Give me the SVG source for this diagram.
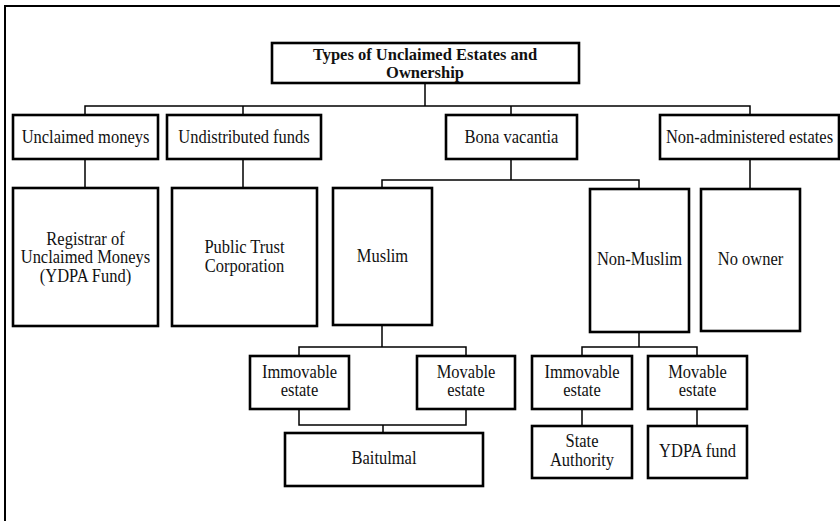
<svg xmlns="http://www.w3.org/2000/svg" width="840" height="521" viewBox="0 0 840 521">
<style>
.box{fill:#fff;stroke:#000;stroke-width:2.6}
.frame{fill:none;stroke:#000;stroke-width:2}
.conn{fill:none;stroke:#000;stroke-width:1.5}
text{font-family:"Liberation Serif","DejaVu Serif",serif;font-size:16.5px;fill:#111;text-anchor:middle}
.title{font-weight:bold;font-size:16.5px}
</style>
<rect x="0" y="0" width="840" height="521" fill="#fff"/>
<path class="frame" d="M5,530 V6 H850"/>
<g id="connectors">
<path class="conn" d="M425,83 V106 M85,115 V106 H750 V115 M243,106 V115 M511,106 V115"/>
<path class="conn" d="M85,159 V188 M243,159 V188 M750,159 V189"/>
<path class="conn" d="M511,159 V180 M382,188 V180 H639 V189"/>
<path class="conn" d="M382,325 V347 M299,356 V347 H466 V356"/>
<path class="conn" d="M299,409 V425 H466 V409 M383,425 V433"/>
<path class="conn" d="M639,332 V347 M582,356 V347 H697 V356"/>
<path class="conn" d="M582,409 V426 M697,409 V426"/>
</g>
<g id="title"><rect class="box" x="272" y="43" width="307" height="40"/><text class="title" transform="translate(425,59.5) scale(1,1.05)">Types of Unclaimed Estates and</text><text class="title" transform="translate(425,77.5) scale(1,1.05)">Ownership</text></g>
<g id="unclaimed-moneys"><rect class="box" x="13" y="115" width="145" height="44"/><text transform="translate(85.5,143) scale(1,1.1)">Unclaimed moneys</text></g>
<g id="undistributed-funds"><rect class="box" x="167" y="115" width="154" height="44"/><text transform="translate(244,143) scale(1,1.1)">Undistributed funds</text></g>
<g id="bona-vacantia"><rect class="box" x="446" y="115" width="131" height="44"/><text transform="translate(511.5,143) scale(1,1.1)">Bona vacantia</text></g>
<g id="non-administered"><rect class="box" x="660" y="115" width="179" height="44"/><text transform="translate(749.5,143) scale(1,1.1)">Non-administered estates</text></g>
<g id="registrar"><rect class="box" x="13" y="188" width="145" height="138"/><text transform="translate(85.5,245) scale(1,1.1)">Registrar of</text><text transform="translate(85.5,263) scale(1,1.1)">Unclaimed Moneys</text><text transform="translate(85.5,282) scale(1,1.1)">(YDPA Fund)</text></g>
<g id="public-trust"><rect class="box" x="172" y="188" width="145" height="138"/><text transform="translate(244.5,253) scale(1,1.1)">Public Trust</text><text transform="translate(244.5,272) scale(1,1.1)">Corporation</text></g>
<g id="muslim"><rect class="box" x="333" y="188" width="99" height="137"/><text transform="translate(382.5,262) scale(1,1.1)">Muslim</text></g>
<g id="non-muslim"><rect class="box" x="590" y="189" width="99" height="143"/><text transform="translate(639.5,265) scale(1,1.1)">Non-Muslim</text></g>
<g id="no-owner"><rect class="box" x="701" y="189" width="99" height="142"/><text transform="translate(750.5,265) scale(1,1.1)">No owner</text></g>
<g id="m-immovable"><rect class="box" x="250" y="356" width="99" height="53"/><text transform="translate(299.5,378) scale(1,1.1)">Immovable</text><text transform="translate(299.5,396) scale(1,1.1)">estate</text></g>
<g id="m-movable"><rect class="box" x="417" y="356" width="98" height="53"/><text transform="translate(466,378) scale(1,1.1)">Movable</text><text transform="translate(466,396) scale(1,1.1)">estate</text></g>
<g id="baitulmal"><rect class="box" x="285" y="433" width="198" height="53"/><text transform="translate(384,464) scale(1,1.1)">Baitulmal</text></g>
<g id="nm-immovable"><rect class="box" x="532" y="356" width="100" height="53"/><text transform="translate(582,378) scale(1,1.1)">Immovable</text><text transform="translate(582,396) scale(1,1.1)">estate</text></g>
<g id="nm-movable"><rect class="box" x="648" y="356" width="99" height="53"/><text transform="translate(697.5,378) scale(1,1.1)">Movable</text><text transform="translate(697.5,396) scale(1,1.1)">estate</text></g>
<g id="state-authority"><rect class="box" x="532" y="426" width="100" height="52"/><text transform="translate(582,447) scale(1,1.1)">State</text><text transform="translate(582,466) scale(1,1.1)">Authority</text></g>
<g id="ydpa-fund"><rect class="box" x="648" y="426" width="99" height="52"/><text transform="translate(697.5,457) scale(1,1.1)">YDPA fund</text></g>
</svg>
